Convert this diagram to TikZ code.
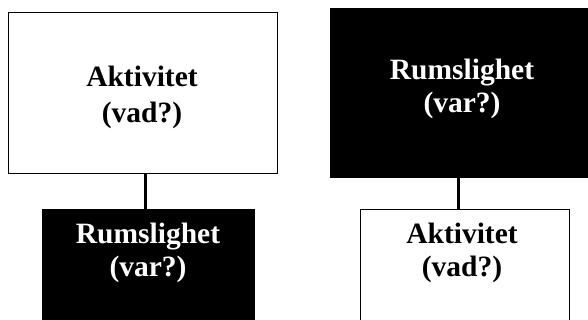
\documentclass[tikz,border=0pt]{standalone}
\usepackage{fontspec}
\setmainfont{Liberation Serif}
\begin{document}
\begin{tikzpicture}[x=1pt,y=-1pt,
  whitebox/.style={draw=black,line width=1.5pt,fill=white,inner sep=0pt},
  blackbox/.style={draw=black,fill=black,inner sep=0pt},
  lbl/.style={font=\bfseries\fontsize{29.5}{33}\selectfont,align=center,inner sep=0pt},
  link/.style={line width=3pt,draw=black}]
\useasboundingbox (0,0) rectangle (588,320);
% left group
\node[whitebox,minimum width=269pt,minimum height=161pt,anchor=north west] (a1) at (7.5,12) {};
\node[lbl,text=black,font=\bfseries\fontsize{29.5}{36}\selectfont] (a1t) at (142,97) {Aktivitet\\(vad?)};
\node[blackbox,minimum width=212pt,minimum height=130pt,anchor=north west] (b2) at (42,209) {};
\node[lbl,text=white] (b2t) at (148,253) {Rumslighet\\(var?)};
\draw[link] (a1.south -| 145,0) -- (b2.north -| 145,0);
% right group
\node[blackbox,minimum width=270pt,minimum height=169pt,anchor=north west] (b3) at (330,8) {};
\node[lbl,text=white] (b3t) at (462,89) {Rumslighet\\(var?)};
\node[whitebox,minimum width=209pt,minimum height=130pt,anchor=north west] (a4) at (359.5,209) {};
\node[lbl,text=black] (a4t) at (462,253) {Aktivitet\\(vad?)};
\draw[link] (b3.south -| 458,0) -- (a4.north -| 458,0);
\end{tikzpicture}
\end{document}
